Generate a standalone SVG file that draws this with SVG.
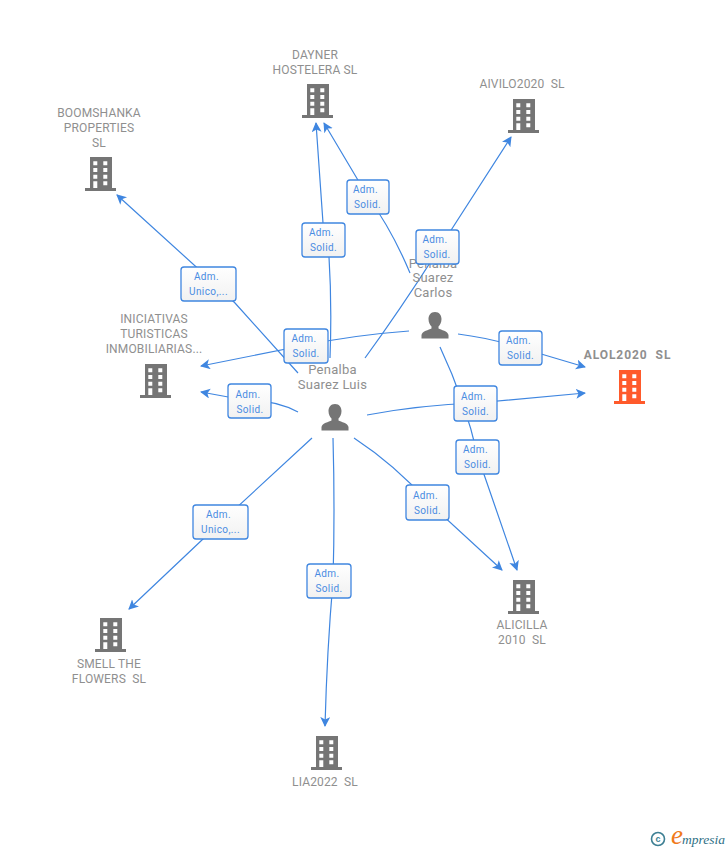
<svg xmlns="http://www.w3.org/2000/svg" width="728" height="850" viewBox="0 0 728 850">
<style>
text{white-space:pre}
.n{font-family:Roboto,"Liberation Sans",Arial,sans-serif;font-size:12px;letter-spacing:.16px;fill:#8f8f8f;text-anchor:middle}
.p{font-family:Roboto,"Liberation Sans",Arial,sans-serif;font-size:13px;letter-spacing:.25px;fill:#8f8f8f;text-anchor:middle}
.l{font-family:Roboto,"Liberation Sans",Arial,sans-serif;font-size:10px;letter-spacing:.4px;fill:#4a8ce2;text-anchor:middle}
.b{fill:url(#g);stroke:#3f86e0;stroke-width:1.3}
.c{fill:none;stroke:#3f86e0;stroke-width:1.2;marker-end:url(#a)}
</style>
<defs>
<linearGradient id="g" x1="0" y1="0" x2="0" y2="1"><stop offset="0" stop-color="#ffffff"/><stop offset="1" stop-color="#f1f1f1"/></linearGradient>
<marker id="a" markerUnits="userSpaceOnUse" markerWidth="12" markerHeight="12" refX="9" refY="5" orient="auto"><path d="M0 0L10 5L0 10L2.500 5Z" fill="#3f86e0"/></marker>
<path id="bld" fill-rule="evenodd" d="M-11 0H11V31H15V34H-16V31H-11ZM-7.700 4.300V8.300H-3.700V4.300ZM2.300 4.300V8.300H6.300V4.300ZM-7.700 11V15H-3.700V11ZM2.300 11V15H6.300V11ZM-7.700 17.700V21.700H-3.700V17.700ZM2.300 17.700V21.700H6.300V17.700ZM-7.700 24.300V31H-3.700V24.300ZM2.300 24.300V28.300H6.300V24.300Z"/>
<path id="per" d="M0 0C4.500 0 6.500 3.500 6.500 7C6.500 10.500 5 13 3.500 14.500V16.500C6 18 13 19 13.500 23V26.500H-13.500V23C-13 19 -6 18 -3.500 16.500V14.500C-5 13 -6.500 10.500 -6.500 7C-6.500 3.500 -4.500 0 0 0Z"/>
</defs>
<g id="connectors">
<path class="c" d="M298 373L235 303L215 284L117 195"/>
<path class="c" d="M330 358Q332 305 329 257L323 223L316 123"/>
<path class="c" d="M365 358Q400 310 437 252L511 137"/>
<path class="c" d="M298 412Q275 400 250 401L201 392"/>
<path class="c" d="M367 415Q420 405 476 403L585 393"/>
<path class="c" d="M354 438Q395 465 428 502L502 570"/>
<path class="c" d="M333 438Q335 510 333 581Q327 650 325 726"/>
<path class="c" d="M312 438L221 522L129 609"/>
<path class="c" d="M410 273Q392 230 368 197L324 123"/>
<path class="c" d="M409 331Q355 335 306 345L201 366"/>
<path class="c" d="M458 334Q490 338 521 348L585 367"/>
<path class="c" d="M440 347Q465 400 478 457L517 570"/>
</g>
<g id="node-dayner"><use href="#bld" x="318" y="84" fill="#757575"/><text class="n" x="315" y="59">DAYNER</text><text class="n" x="315" y="74">HOSTELERA SL</text></g>
<g id="node-aivilo"><use href="#bld" x="524" y="99" fill="#757575"/><text class="n" x="522" y="88">AIVILO2020  SL</text></g>
<g id="node-boom"><use href="#bld" x="101" y="157" fill="#757575"/><text class="n" x="99" y="117">BOOMSHANKA</text><text class="n" x="99" y="132">PROPERTIES</text><text class="n" x="99" y="147">SL</text></g>
<g id="node-inic"><use href="#bld" x="156" y="364" fill="#757575"/><text class="n" x="154" y="323">INICIATIVAS</text><text class="n" x="154" y="338">TURISTICAS</text><text class="n" x="154" y="353">INMOBILIARIAS...</text></g>
<g id="node-alol"><use href="#bld" x="630" y="370" fill="#ff5a2b"/><text class="n" x="627.500" y="359" style="font-weight:bold;font-size:12px;letter-spacing:.95px">ALOL2020  SL</text></g>
<g id="node-alicilla"><use href="#bld" x="524" y="580" fill="#757575"/><text class="n" x="522" y="629">ALICILLA</text><text class="n" x="522" y="644">2010  SL</text></g>
<g id="node-smell"><use href="#bld" x="111" y="618" fill="#757575"/><text class="n" x="109" y="668">SMELL THE</text><text class="n" x="109" y="683">FLOWERS  SL</text></g>
<g id="node-lia"><use href="#bld" x="327" y="736" fill="#757575"/><text class="n" x="325" y="786">LIA2022  SL</text></g>
<g id="node-carlos"><use href="#per" x="435" y="312" fill="#757575"/><text class="p" x="433" y="268">Penalba</text><text class="p" x="433" y="282">Suarez</text><text class="p" x="433" y="297">Carlos</text></g>
<g id="node-luis"><use href="#per" x="335" y="404" fill="#757575"/><text class="p" x="332.500" y="374">Penalba</text><text class="p" x="332.500" y="389">Suarez Luis</text></g>
<g id="labels">
<g><rect class="b" x="302" y="223" width="43" height="34" rx="3"/><text class="l" x="321.500" y="236">Adm.</text><text class="l" x="323.500" y="251">Solid.</text></g>
<g><rect class="b" x="347" y="180" width="42" height="34" rx="3"/><text class="l" x="365.500" y="193">Adm.</text><text class="l" x="367.500" y="208">Solid.</text></g>
<g><rect class="b" x="416" y="230" width="43" height="34" rx="3"/><text class="l" x="435" y="243">Adm.</text><text class="l" x="437" y="258">Solid.</text></g>
<g><rect class="b" x="284" y="329" width="44" height="34" rx="3"/><text class="l" x="304" y="342">Adm.</text><text class="l" x="306" y="357">Solid.</text></g>
<g><rect class="b" x="499" y="331" width="43" height="34" rx="3"/><text class="l" x="518.500" y="344">Adm.</text><text class="l" x="520.500" y="359">Solid.</text></g>
<g><rect class="b" x="454" y="386" width="43" height="35" rx="3"/><text class="l" x="473.500" y="400">Adm.</text><text class="l" x="475.500" y="415">Solid.</text></g>
<g><rect class="b" x="456" y="440" width="43" height="34" rx="3"/><text class="l" x="475.500" y="453">Adm.</text><text class="l" x="477.500" y="468">Solid.</text></g>
<g><rect class="b" x="406" y="485" width="43" height="35" rx="3"/><text class="l" x="425.500" y="499">Adm.</text><text class="l" x="427.500" y="514">Solid.</text></g>
<g><rect class="b" x="228" y="384" width="43" height="34" rx="3"/><text class="l" x="248" y="398">Adm.</text><text class="l" x="250" y="413">Solid.</text></g>
<g><rect class="b" x="307" y="564" width="44" height="34" rx="3"/><text class="l" x="327" y="577">Adm.</text><text class="l" x="329" y="592">Solid.</text></g>
<g><rect class="b" x="181" y="267" width="55" height="34" rx="3"/><text class="l" x="206.500" y="280">Adm.</text><text class="l" x="208.500" y="295">Unico,...</text></g>
<g><rect class="b" x="193" y="505" width="55" height="34" rx="3"/><text class="l" x="218.500" y="518">Adm.</text><text class="l" x="220.500" y="533">Unico,...</text></g>
</g>
<g id="logo">
<circle cx="658" cy="839" r="6.500" fill="none" stroke="#3d7f93" stroke-width="1.600"/>
<text x="658" y="842" font-family="'Liberation Sans',sans-serif" font-size="9" font-weight="bold" fill="#3d7f93" text-anchor="middle">c</text>
<text x="671" y="844" font-family="'Liberation Serif',serif" font-size="27" font-style="italic" fill="#f07a1a">e</text>
<text x="682" y="844" font-family="'Liberation Serif',serif" font-size="13.500" font-style="italic" fill="#2f6f85">mpresia</text>
</g>
</svg>
